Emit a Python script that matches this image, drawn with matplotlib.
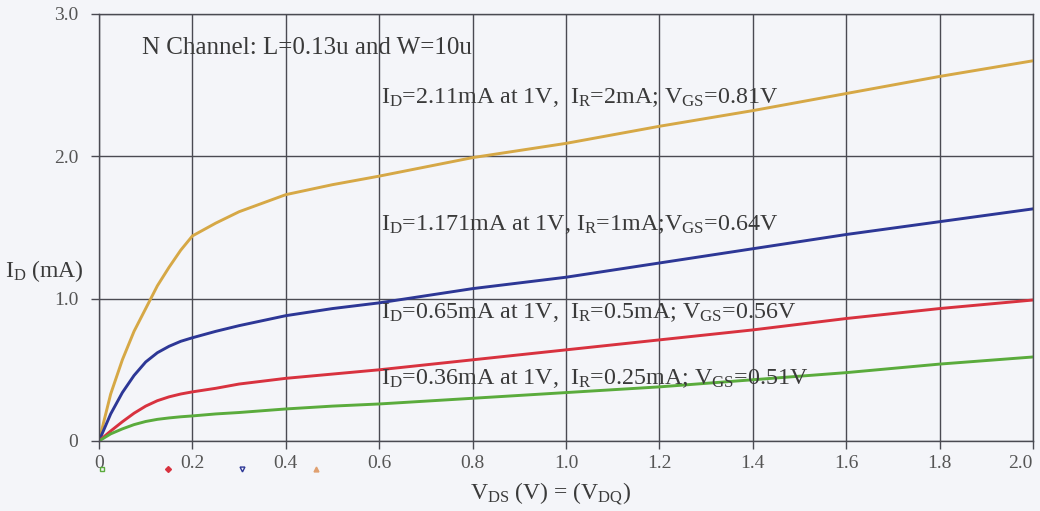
import matplotlib
matplotlib.use("Agg")
import matplotlib.pyplot as plt

# --- data ---
vds = [0, 0.025, 0.05, 0.075, 0.1, 0.125, 0.15, 0.175, 0.2, 0.25, 0.3, 0.4, 0.5, 0.6,
       0.8, 1.0, 1.2, 1.4, 1.6, 1.8, 2.0]
id_2ma = [0, 0.33, 0.57, 0.77, 0.93, 1.09, 1.22, 1.34, 1.44, 1.53, 1.61, 1.73, 1.80, 1.86,
          1.99, 2.09, 2.21, 2.32, 2.44, 2.56, 2.67]
id_1ma = [0, 0.19, 0.34, 0.46, 0.555, 0.62, 0.665, 0.70, 0.725, 0.77, 0.81, 0.88, 0.93, 0.97,
          1.07, 1.15, 1.25, 1.35, 1.45, 1.54, 1.63]
id_05ma = [0, 0.07, 0.135, 0.195, 0.245, 0.283, 0.31, 0.33, 0.345, 0.37, 0.40, 0.44, 0.47, 0.50,
           0.57, 0.64, 0.71, 0.78, 0.86, 0.93, 0.99]
id_025ma = [0, 0.05, 0.085, 0.115, 0.137, 0.152, 0.162, 0.17, 0.176, 0.19, 0.20, 0.225, 0.245, 0.26,
            0.30, 0.34, 0.38, 0.43, 0.48, 0.54, 0.59]

x_ticks = [0, 0.2, 0.4, 0.6, 0.8, 1.0, 1.2, 1.4, 1.6, 1.8, 2.0]
x_ticklabels = ["0", "0.2", "0.4", "0.6", "0.8", "1.0", "1.2", "1.4", "1.6", "1.8", "2.0"]
y_ticks = [0, 1, 2, 3]
y_ticklabels = ["0", "1.0", "2.0", "3.0"]

labels = [
    r"I$_\mathrm{D}$=2.11mA at 1V,  I$_\mathrm{R}$=2mA; V$_\mathrm{GS}$=0.81V",
    r"I$_\mathrm{D}$=1.171mA at 1V, I$_\mathrm{R}$=1mA;V$_\mathrm{GS}$=0.64V",
    r"I$_\mathrm{D}$=0.65mA at 1V,  I$_\mathrm{R}$=0.5mA; V$_\mathrm{GS}$=0.56V",
    r"I$_\mathrm{D}$=0.36mA at 1V,  I$_\mathrm{R}$=0.25mA; V$_\mathrm{GS}$=0.51V",
]
label_y = [2.41, 1.52, 0.905, 0.44]

# marker row under the axis
mark_x = [0.006, 0.148, 0.306, 0.465]

# --- style ---
plt.rcParams["font.family"] = ["Liberation Serif", "DejaVu Serif"]
plt.rcParams["mathtext.fontset"] = "custom"
plt.rcParams["mathtext.rm"] = "Liberation Serif"
plt.rcParams["mathtext.it"] = "Liberation Serif:italic"

bg = "#f4f5f9"
grid_c = "#4a4a52"
txt_c = "#3a3a3a"
col_y, col_b, col_r, col_g = "#d6a846", "#2d3796", "#d8323f", "#5aab3c"

fig = plt.figure(figsize=(10.4, 5.11), dpi=100, facecolor=bg)
ax = fig.add_axes([0.0952, 0.137, 0.898, 0.836], facecolor=bg)

for ys, c in [(id_2ma, col_y), (id_1ma, col_b), (id_05ma, col_r), (id_025ma, col_g)]:
    ax.plot(vds, ys, color=c, lw=2.1, solid_joinstyle="round")

ax.set_xlim(0, 2.0)
ax.set_ylim(0, 3.0)
ax.set_xticks(x_ticks)
ax.set_xticklabels(x_ticklabels)
ax.set_yticks(y_ticks)
ax.set_yticklabels(y_ticklabels)
ax.tick_params(axis="both", direction="out", length=6, width=1, color=grid_c,
               labelsize=14, labelcolor="#555555")
ax.tick_params(axis="y", pad=9)
ax.tick_params(axis="x", pad=4)
ax.get_xticklabels()[-1].set_horizontalalignment("right")
ax.grid(True, color=grid_c, lw=1)
for s in ax.spines.values():
    s.set_color(grid_c)
    s.set_linewidth(1)

# annotations
ax.text(0.092, 2.76, "N Channel: L=0.13u and W=10u", fontsize=18, color=txt_c,
        va="center", ha="left")
for t, yy in zip(labels, label_y):
    ax.text(0.604, yy, t, fontsize=17.3, color=txt_c, va="center", ha="left")

# small legend markers below the x axis
ax.plot(mark_x[0], -0.2, marker="s", ms=3.5, mfc="none", mec=col_g, clip_on=False)
ax.plot(mark_x[1], -0.2, marker="D", ms=3, color=col_r, clip_on=False)
ax.plot(mark_x[2], -0.2, marker="v", ms=3.5, mfc="none", mec=col_b, clip_on=False)
ax.plot(mark_x[3], -0.2, marker="^", ms=3.5, color="#e0a070", clip_on=False)

fig.text(0.005, 1 - 271 / 511, r"I$_\mathrm{D}$ (mA)", fontsize=17, color=txt_c,
         va="center", ha="left")
fig.text(551 / 1040, 1 - 494 / 511, r"V$_\mathrm{DS}$ (V) = (V$_\mathrm{DQ}$)",
         fontsize=17, color=txt_c, va="center", ha="center")

fig.savefig("out.png", dpi=100, facecolor=bg)
